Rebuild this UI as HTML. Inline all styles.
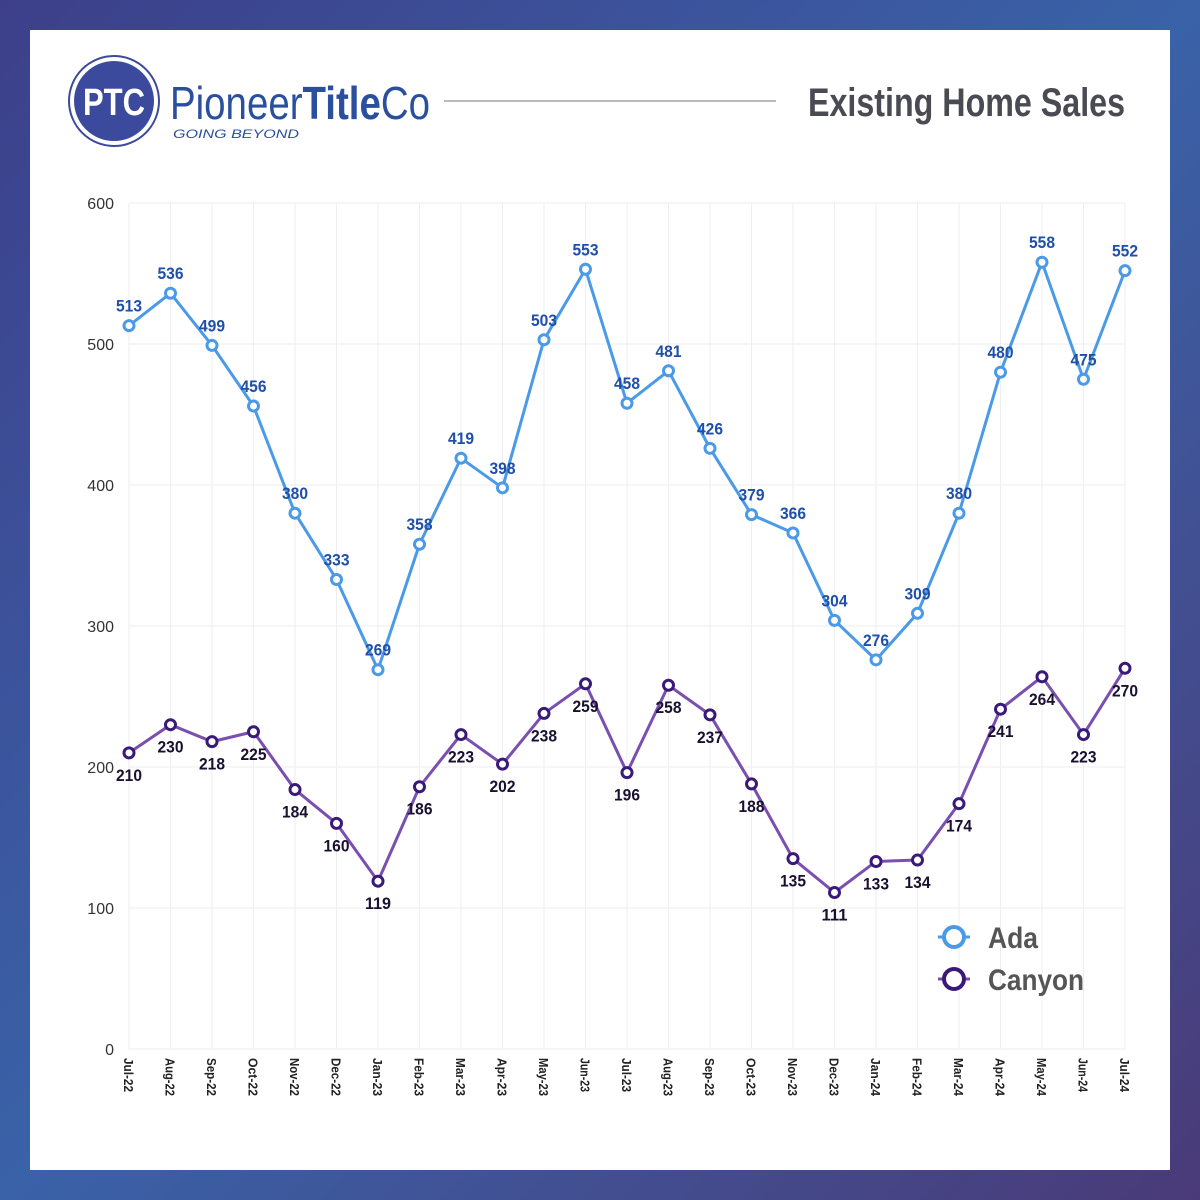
<!DOCTYPE html>
<html><head><meta charset="utf-8"><style>
body{margin:0;width:1200px;height:1200px;background:linear-gradient(135deg,#3d3f8a 0%,#3a62a8 50%,#4a3a78 100%);position:relative;overflow:hidden}
#card{position:absolute;left:30px;top:30px;width:1140px;height:1140px;background:#fff}
svg text{font-family:"Liberation Sans",sans-serif}
</style></head><body>
<div id="card"></div>
<svg id="s" width="1200" height="1200" style="position:absolute;left:0;top:0">
<circle cx="114" cy="101" r="45" fill="#fff" stroke="#3b4a9c" stroke-width="2"/>
<circle cx="114" cy="101" r="40" fill="#3b4a9c"/>
<text x="83" y="115" font-size="38" font-weight="bold" fill="#fff" textLength="62" lengthAdjust="spacingAndGlyphs">PTC</text>
<text x="170" y="119" font-size="46" fill="#2a4f9e" textLength="260" lengthAdjust="spacingAndGlyphs">Pioneer<tspan font-weight="bold">Title</tspan>Co</text>
<text x="173" y="138" font-size="12" fill="#2a4f9e" font-style="italic" textLength="126" lengthAdjust="spacingAndGlyphs">GOING BEYOND</text>
<line x1="444" y1="101" x2="776" y2="101" stroke="#bbb" stroke-width="2"/>
<text x="808" y="116" font-size="40" font-weight="bold" fill="#4a4a52" textLength="317" lengthAdjust="spacingAndGlyphs">Existing Home Sales</text>
<g id="g"></g>
</svg>
<script>
const ada=[513,536,499,456,380,333,269,358,419,398,503,553,458,481,426,379,366,304,276,309,380,480,558,475,552];
const can=[210,230,218,225,184,160,119,186,223,202,238,259,196,258,237,188,135,111,133,134,174,241,264,223,270];
const m=["Jul-22","Aug-22","Sep-22","Oct-22","Nov-22","Dec-22","Jan-23","Feb-23","Mar-23","Apr-23","May-23","Jun-23","Jul-23","Aug-23","Sep-23","Oct-23","Nov-23","Dec-23","Jan-24","Feb-24","Mar-24","Apr-24","May-24","Jun-24","Jul-24"];
const X=i=>129+i*41.5, Y=v=>1049-v*1.41;
let h="";
for(let i=0;i<25;i++){h+=`<line x1="${X(i)}" y1="203" x2="${X(i)}" y2="1049" stroke="#eee"/>`;
let L=m[i].startsWith("Ju")?34:38;
h+=`<text transform="translate(${X(i)-5},1058) rotate(90)" font-size="13" font-weight="bold" fill="#222" textLength="${L}" lengthAdjust="spacingAndGlyphs">${m[i]}</text>`;}
for(let v=0;v<=600;v+=100){h+=`<line x1="129" y1="${Y(v)}" x2="1125" y2="${Y(v)}" stroke="#eee"/>`;
h+=`<text x="114" y="${Y(v)+6}" text-anchor="end" font-size="16" fill="#333">${v}</text>`;}
function ser(d,c,lc,above){let p=d.map((v,i)=>X(i)+","+Y(v)).join(" ");
h+=`<polyline points="${p}" fill="none" stroke="${c}" stroke-width="3"/>`;
d.forEach((v,i)=>{h+=`<circle cx="${X(i)}" cy="${Y(v)}" r="5" fill="#fff" stroke="${lc}" stroke-width="3"/>`;
h+=`<text x="${X(i)-13}" y="${above?Y(v)-14:Y(v)+28}" font-size="17" font-weight="bold" fill="${above?'#1f4fa8':'#1a1030'}" textLength="26" lengthAdjust="spacingAndGlyphs">${v}</text>`;});}
ser(ada,"#4a9ae8","#4a9ae8",true);
ser(can,"#7a4fb0","#3a1a78",false);
h+=`<line x1="938" y1="937" x2="970" y2="937" stroke="#4a9ae8" stroke-width="3"/><circle cx="954" cy="937" r="10" fill="#fff" stroke="#4a9ae8" stroke-width="4"/><text x="988" y="948" font-size="30" font-weight="bold" fill="#555" textLength="50" lengthAdjust="spacingAndGlyphs">Ada</text>`;
h+=`<line x1="938" y1="979" x2="970" y2="979" stroke="#7a4fb0" stroke-width="3"/><circle cx="954" cy="979" r="10" fill="#fff" stroke="#3a1a78" stroke-width="4"/><text x="988" y="990" font-size="30" font-weight="bold" fill="#555" textLength="96" lengthAdjust="spacingAndGlyphs">Canyon</text>`;
document.getElementById("g").innerHTML=h;
</script>
</body></html>
